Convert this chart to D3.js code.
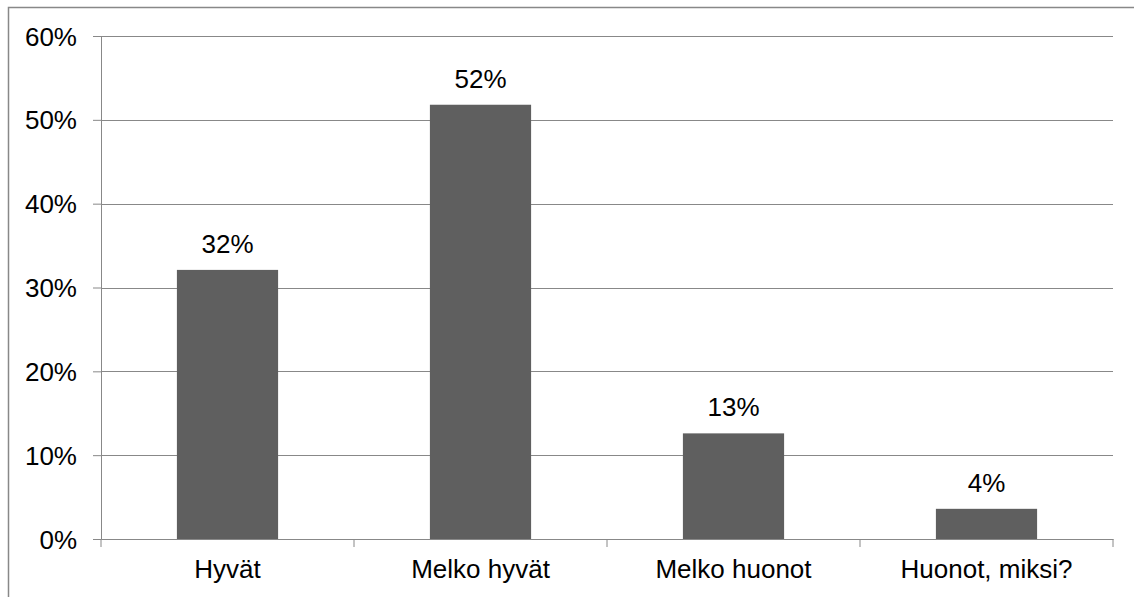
<!DOCTYPE html>
<html>
<head>
<meta charset="utf-8">
<script src="https://cdn.jsdelivr.net/npm/d3@7"></script>
<style>
html,body{margin:0;padding:0;background:#fff;}
svg{display:block;font-family:"Liberation Sans",Arial,sans-serif;}
</style>
</head>
<body>
<svg id="chart" width="1134" height="597"></svg>
<script>
const categories = ["Hyvät", "Melko hyvät", "Melko huonot", "Huonot, miksi?"];
const values = [32.1, 51.8, 12.6, 3.6];
const yTicks = [0, 10, 20, 30, 40, 50, 60];

const svg = d3.select("#chart");
const W = 1134, H = 597;
const m = {left: 101, right: 21, top: 36, bottom: 58};
const x = d3.scaleBand().domain(categories).range([m.left, W - m.right]).paddingInner(0.6).paddingOuter(0.3);
const xb = d3.scaleBand().domain(categories).range([m.left, W - m.right]);
const y = d3.scaleLinear().domain([0, 60]).range([H - m.bottom, m.top]);
const grid = "#888888";

// frame
svg.append("path").attr("d", `M8.5,${H} V7.5 H${W}`).attr("fill", "none").attr("stroke", grid).attr("stroke-width", 1.5);

// gridlines + left ticks
const ya = d3.axisLeft(y).tickValues(yTicks).tickSize(8).tickFormat(d => d + "%");
const gy = svg.append("g").attr("transform", `translate(${m.left},0)`).call(ya);
gy.select(".domain").attr("stroke", grid);
gy.selectAll(".tick line").attr("stroke", grid);
gy.selectAll(".tick text").attr("x", -24).attr("dy", "0.35em").attr("font-size", 26).attr("fill", "#000").attr("font-family", "Liberation Sans, Arial, sans-serif");
svg.append("g").selectAll("line").data(yTicks.filter(d => d > 0)).join("line")
  .attr("x1", m.left).attr("x2", W - m.right)
  .attr("y1", d => Math.round(y(d)) + 0.5).attr("y2", d => Math.round(y(d)) + 0.5)
  .attr("stroke", grid).attr("stroke-width", 1);

// bars
svg.append("g").selectAll("rect").data(values).join("rect")
  .attr("x", (d, i) => x(categories[i]))
  .attr("width", x.bandwidth())
  .attr("y", d => y(d))
  .attr("height", d => y(0) - y(d))
  .attr("fill", "#5f5f5f");

// value labels
svg.append("g").selectAll("text").data(values).join("text")
  .attr("x", (d, i) => x(categories[i]) + x.bandwidth() / 2)
  .attr("y", d => y(d) - 17)
  .attr("text-anchor", "middle").attr("font-size", 26).attr("fill", "#000")
  .text(d => Math.round(d) + "%");

// bottom axis
const xa = d3.axisBottom(xb).tickSize(0).tickSizeOuter(0);
const gx = svg.append("g").attr("transform", `translate(0,${y(0)})`).call(xa);
gx.select(".domain").attr("stroke", grid);
gx.selectAll(".tick text").attr("y", 0).attr("dy", 0).attr("transform", "translate(0,39)")
  .attr("font-size", 26).attr("fill", "#000").attr("font-family", "Liberation Sans, Arial, sans-serif");
const bounds = categories.map(c => xb(c)).concat([W - m.right]);
svg.append("g").selectAll("line").data(bounds).join("line")
  .attr("x1", d => d).attr("x2", d => d)
  .attr("y1", y(0)).attr("y2", y(0) + 8)
  .attr("stroke", grid);
</script>
</body>
</html>
